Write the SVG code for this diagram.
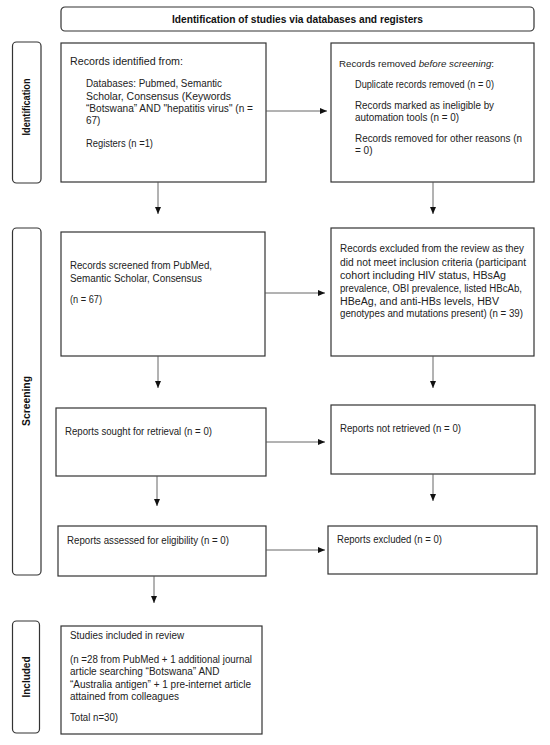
<svg xmlns="http://www.w3.org/2000/svg" width="550" height="745" viewBox="0 0 550 745">
<style>
.box{fill:#fff;stroke:#333;stroke-width:1.2}
.side{fill:#fff;stroke:#333;stroke-width:1.2}
.t{font-family:"Liberation Sans",Arial,sans-serif;font-size:10px;fill:#222}
.b{font-family:"Liberation Sans",Arial,sans-serif;font-size:10px;font-weight:bold;fill:#111}
.c{stroke:#555;stroke-width:0.9;fill:none}
</style>
<defs>
<marker id="ah" markerUnits="userSpaceOnUse" markerWidth="7" markerHeight="6" refX="7" refY="3" orient="auto">
<path d="M0,0 L7,3 L0,6 z" fill="#111"/>
</marker>
</defs>
<rect width="550" height="745" fill="#fff"/>

<g id="header">
<rect class="side" x="61" y="7" width="473" height="24" rx="4"/>
<text class="b" x="172" y="23" textLength="251" lengthAdjust="spacingAndGlyphs">Identification of studies via databases and registers</text>
</g>

<g id="label-identification">
<rect class="side" x="12.5" y="42" width="28.5" height="141" rx="4"/>
<text class="b" x="0" y="0" text-anchor="middle" dominant-baseline="central" textLength="57" lengthAdjust="spacingAndGlyphs" transform="translate(26.5,107) rotate(-90)">Identification</text>
</g>
<g id="label-screening">
<rect class="side" x="12.5" y="228" width="28.5" height="347" rx="4"/>
<text class="b" x="0" y="0" text-anchor="middle" dominant-baseline="central" textLength="50" lengthAdjust="spacingAndGlyphs" transform="translate(26.5,401) rotate(-90)">Screening</text>
</g>
<g id="label-included">
<rect class="side" x="12.5" y="621" width="27" height="112" rx="4"/>
<text class="b" x="0" y="0" text-anchor="middle" dominant-baseline="central" textLength="41" lengthAdjust="spacingAndGlyphs" transform="translate(26,677) rotate(-90)">Included</text>
</g>

<g id="records-identified">
<rect class="box" x="61" y="43" width="205" height="139"/>
<text class="t" x="70" y="65" textLength="113" lengthAdjust="spacingAndGlyphs">Records identified from:</text>
<text class="t" x="86" y="87" textLength="136" lengthAdjust="spacingAndGlyphs">Databases: Pubmed, Semantic</text>
<text class="t" x="86" y="99.5" textLength="145" lengthAdjust="spacingAndGlyphs">Scholar, Consensus (Keywords</text>
<text class="t" x="86" y="112" textLength="167" lengthAdjust="spacingAndGlyphs">“Botswana” AND "hepatitis virus"  (n =</text>
<text class="t" x="86" y="124">67)</text>
<text class="t" x="86" y="147" textLength="67" lengthAdjust="spacingAndGlyphs">Registers (n =1)</text>
</g>

<g id="records-removed">
<rect class="box" x="331" y="43" width="203" height="139"/>
<text class="t" x="339" y="67" style="font-size:9.75px">Records removed <tspan font-style="italic">before screening</tspan>:</text>
<text class="t" x="355" y="88" textLength="139" lengthAdjust="spacingAndGlyphs">Duplicate records removed (n = 0)</text>
<text class="t" x="355" y="109" textLength="139" lengthAdjust="spacingAndGlyphs">Records marked as ineligible by</text>
<text class="t" x="355" y="121" textLength="104" lengthAdjust="spacingAndGlyphs">automation tools (n = 0)</text>
<text class="t" x="355" y="142" textLength="167" lengthAdjust="spacingAndGlyphs">Records removed for other reasons (n</text>
<text class="t" x="355" y="154">= 0)</text>
</g>

<g id="records-screened">
<rect class="box" x="61" y="232" width="204" height="124"/>
<text class="t" x="70" y="269" textLength="142" lengthAdjust="spacingAndGlyphs">Records screened from PubMed,</text>
<text class="t" x="70" y="282" textLength="132" lengthAdjust="spacingAndGlyphs">Semantic Scholar, Consensus</text>
<text class="t" x="70" y="303" textLength="32" lengthAdjust="spacingAndGlyphs">(n = 67)</text>
</g>

<g id="records-excluded">
<rect class="box" x="331" y="228" width="203" height="128"/>
<text class="t" x="340" y="252" textLength="184" lengthAdjust="spacingAndGlyphs">Records excluded from the review as they</text>
<text class="t" x="340" y="265.5" textLength="186" lengthAdjust="spacingAndGlyphs">did not meet inclusion criteria (participant</text>
<text class="t" x="340" y="278.5" textLength="166" lengthAdjust="spacingAndGlyphs">cohort including HIV status, HBsAg</text>
<text class="t" x="340" y="291.5" textLength="182" lengthAdjust="spacingAndGlyphs">prevalence, OBI prevalence, listed HBcAb,</text>
<text class="t" x="340" y="304.5" textLength="159" lengthAdjust="spacingAndGlyphs">HBeAg, and anti-HBs  levels, HBV</text>
<text class="t" x="340" y="317" textLength="183" lengthAdjust="spacingAndGlyphs">genotypes and mutations present) (n = 39)</text>
</g>

<g id="reports-sought">
<rect class="box" x="56" y="408" width="210" height="68"/>
<text class="t" x="65" y="435" textLength="147" lengthAdjust="spacingAndGlyphs">Reports sought for retrieval (n = 0)</text>
</g>

<g id="reports-not-retrieved">
<rect class="box" x="331" y="405" width="204" height="69"/>
<text class="t" x="340" y="432" textLength="121" lengthAdjust="spacingAndGlyphs">Reports not retrieved (n = 0)</text>
</g>

<g id="reports-assessed">
<rect class="box" x="58" y="526" width="208" height="50"/>
<text class="t" x="67" y="544" textLength="162" lengthAdjust="spacingAndGlyphs">Reports assessed for eligibility (n = 0)</text>
</g>

<g id="reports-excluded">
<rect class="box" x="328" y="526" width="209" height="48"/>
<text class="t" x="337" y="543" textLength="105" lengthAdjust="spacingAndGlyphs">Reports excluded (n = 0)</text>
</g>

<g id="studies-included">
<rect class="box" x="61" y="626" width="201" height="108"/>
<text class="t" x="70" y="639" textLength="114" lengthAdjust="spacingAndGlyphs">Studies included in review</text>
<text class="t" x="70" y="663" textLength="182" lengthAdjust="spacingAndGlyphs">(n =28 from PubMed + 1 additional journal</text>
<text class="t" x="70" y="675">article searching “Botswana” AND</text>
<text class="t" x="70" y="687.5" textLength="181" lengthAdjust="spacingAndGlyphs">“Australia antigen” + 1 pre-internet article</text>
<text class="t" x="70" y="699.5" textLength="109" lengthAdjust="spacingAndGlyphs">attained from colleagues</text>
<text class="t" x="70" y="721" textLength="48" lengthAdjust="spacingAndGlyphs">Total n=30)</text>
</g>

<g id="connectors">
<line class="c" x1="266" y1="111" x2="327" y2="111" marker-end="url(#ah)"/>
<line class="c" x1="158" y1="182" x2="158" y2="214" marker-end="url(#ah)"/>
<line class="c" x1="433" y1="182" x2="433" y2="214" marker-end="url(#ah)"/>
<line class="c" x1="265" y1="293" x2="325" y2="293" marker-end="url(#ah)"/>
<line class="c" x1="158" y1="356" x2="158" y2="388" marker-end="url(#ah)"/>
<line class="c" x1="433" y1="356" x2="433" y2="388" marker-end="url(#ah)"/>
<line class="c" x1="266" y1="442" x2="325" y2="442" marker-end="url(#ah)"/>
<line class="c" x1="157" y1="476" x2="157" y2="506" marker-end="url(#ah)"/>
<line class="c" x1="433" y1="474" x2="433" y2="501" marker-end="url(#ah)"/>
<line class="c" x1="266" y1="550" x2="325" y2="550" marker-end="url(#ah)"/>
<line class="c" x1="154" y1="576" x2="154" y2="603" marker-end="url(#ah)"/>
</g>
</svg>
